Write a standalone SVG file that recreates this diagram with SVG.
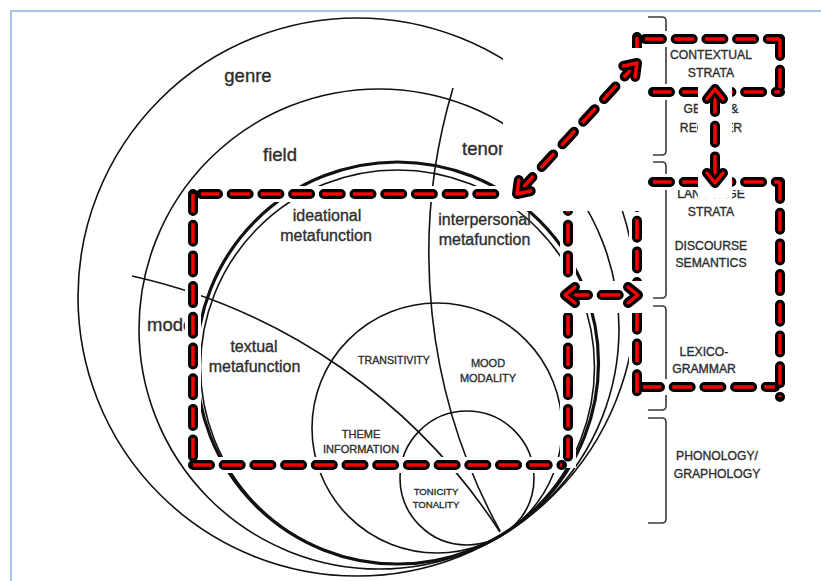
<svg xmlns="http://www.w3.org/2000/svg" width="821" height="581" viewBox="0 0 821 581">
<style>
.frame{stroke:#8db3e2;stroke-width:1.5;fill:none}
.c{fill:none;stroke:#111;stroke-width:1.6}
.ck{fill:none;stroke:#111;stroke-width:3.2}
.br{fill:none;stroke:#3a3a3a;stroke-width:1.6}
.t{font-family:"Liberation Sans",Arial,sans-serif;fill:#2e2e2e;stroke:#2e2e2e;stroke-width:0.35;text-anchor:middle}
.lg{font-size:18.5px}
.md{font-size:16px}
.cap{font-size:12.2px}
.sc{font-size:11px}
.xs{font-size:9.6px}
.u{fill:none;stroke:#fff;stroke-width:16}
.b{fill:none;stroke:#000;stroke-width:10;stroke-linecap:round;stroke-dasharray:17 13.7}
.r{fill:none;stroke:#f00;stroke-width:3.5;stroke-dasharray:20 10.7;stroke-dashoffset:1.5}
.hb{fill:none;stroke:#000;stroke-width:10;stroke-linecap:round;stroke-linejoin:round}
.hr{fill:none;stroke:#f00;stroke-width:3.5;stroke-linecap:round;stroke-linejoin:round}
.w{fill:#fff}
</style>
<defs>
<path id="b1t" d="M201 194 H520"/>
<path id="b1l" d="M193 194 V465"/>
<path id="b1b" d="M193 465 H562"/>
<path id="b1r" d="M568 194 V468"/>
<path id="b2t" d="M645 39 H780"/>
<path id="b2r" d="M780 39 V92"/>
<path id="b2b" d="M653 92 H780"/>
<path id="b2l" d="M637 37 V92"/>
<path id="b3t" d="M653 182 H780"/>
<path id="b3r" d="M780 182 V397"/>
<path id="b3b" d="M643 387 H775"/>
<path id="b3l" d="M637 190 V397"/>
<path id="a1" d="M521 189.6 L633 67.4"/>
<path id="a2" d="M715 95 V177"/>
<path id="a3" d="M571 295 H632"/>
<path id="h1a" d="M530.7 191 L517 194 L518.8 180.1"/>
<path id="h1b" d="M623.3 66 L637 63 L635.2 76.9"/>
<path id="h2a" d="M707 99 L715 89 L723 99"/>
<path id="h2b" d="M707 173 L715 183 L723 173"/>
<path id="h3a" d="M575 287 L565 295 L575 303"/>
<path id="h3b" d="M628 287 L638 295 L628 303"/>
</defs>
<rect width="821" height="581" fill="#fff"/>
<path class="frame" d="M11 581 V11 H821"/>

<g id="circles">
<circle id="genre-circle" class="c" cx="357" cy="297" r="279"/>
<circle id="register-circle" class="c" cx="379" cy="329" r="240"/>
<circle id="inner-ring" class="c" cx="397.5" cy="367" r="197"/>
<circle id="discourse-circle" class="ck" cx="397.5" cy="363" r="201"/>
<circle id="lexicogrammar-circle" class="c" cx="437" cy="428" r="125"/>
<circle id="phonology-circle" class="c" cx="467" cy="478" r="67"/>
<path id="tenor-divider" class="c" d="M453 88 A577.7 577.7 0 0 0 500 531"/>
<path id="mode-divider" class="c" d="M132 276 A591 591 0 0 1 500 532"/>
</g>

<g id="circle-labels" class="t">
<text class="lg" x="248" y="82">genre</text>
<text class="lg" x="280" y="161">field</text>
<text class="lg" x="462" y="155" style="text-anchor:start">tenor</text>
<text class="lg" x="147" y="331" style="text-anchor:start">mode</text>
<text class="md" x="327" y="221">ideational</text>
<text class="md" x="326" y="241">metafunction</text>
<text class="md" x="484.5" y="225">interpersonal</text>
<text class="md" x="484.5" y="245">metafunction</text>
<text class="md" x="254" y="352">textual</text>
<text class="md" x="254.5" y="372">metafunction</text>
<text style="font-size:10.6px" x="394" y="364">TRANSITIVITY</text>
<text class="sc" x="488" y="367">MOOD</text>
<text class="sc" x="488" y="382">MODALITY</text>
<text class="sc" x="361" y="438">THEME</text>
<text class="sc" x="361" y="453">INFORMATION</text>
<text class="xs" x="436" y="495">TONICITY</text>
<text class="xs" x="436" y="508">TONALITY</text>
</g>

<g id="strata-brackets" class="br">
<path d="M648 17 H662 Q666 17 666 21 V151 Q666 155 662 155 H653"/>
<path d="M653 162 H662 Q666 162 666 166 V294 Q666 298 662 298 H653"/>
<path d="M653 306 H662 Q666 306 666 310 V406 Q666 410 662 410 H648"/>
<path d="M648 418 H662 Q666 418 666 422 V519 Q666 523 662 523 H648"/>
</g>

<g id="strata-labels" class="t cap">
<text x="711" y="59">CONTEXTUAL</text>
<text x="711" y="77">STRATA</text>
<text x="711" y="113">GENRE &amp;</text>
<text x="711" y="132">REGISTER</text>
<text x="711" y="198">LANGUAGE</text>
<text x="711" y="216">STRATA</text>
<text x="711" y="250">DISCOURSE</text>
<text x="711" y="267">SEMANTICS</text>
<text x="704" y="356">LEXICO-</text>
<text x="704" y="373">GRAMMAR</text>
<text x="717" y="460">PHONOLOGY/</text>
<text x="717" y="478">GRAPHOLOGY</text>
</g>

<g id="metafunction-box">
<use href="#b1t" class="u"/><use href="#b1l" class="u"/><use href="#b1b" class="u"/><use href="#b1r" class="u"/>
<use href="#b1t" class="b"/><use href="#b1l" class="b"/><use href="#b1b" class="b"/><use href="#b1r" class="b"/>
<use href="#b1t" class="r"/><use href="#b1l" class="r"/><use href="#b1b" class="r"/><use href="#b1r" class="r"/>
</g>
<g id="contextual-box">
<use href="#b2t" class="u"/><use href="#b2r" class="u"/><use href="#b2b" class="u"/><use href="#b2l" class="u"/>
<use href="#b2t" class="b"/><use href="#b2r" class="b"/><use href="#b2b" class="b"/><use href="#b2l" class="b"/>
<use href="#b2t" class="r"/><use href="#b2r" class="r"/><use href="#b2b" class="r"/><use href="#b2l" class="r"/>
</g>
<g id="language-box">
<use href="#b3t" class="u"/><use href="#b3r" class="u"/><use href="#b3b" class="u"/><use href="#b3l" class="u"/>
<use href="#b3t" class="b"/><use href="#b3r" class="b"/><use href="#b3b" class="b"/><use href="#b3l" class="b"/>
<use href="#b3t" class="r"/><use href="#b3r" class="r"/><use href="#b3b" class="r"/><use href="#b3l" class="r"/>
</g>

<g id="connectors">
<rect class="w" x="503" y="48" width="142" height="163"/>
<rect class="w" x="698" y="82" width="34" height="116"/>
<rect class="w" x="562" y="281" width="83" height="32"/>
<use href="#a1" class="b"/><use href="#a1" class="r"/>
<use href="#h1a" class="hb"/><use href="#h1b" class="hb"/>
<use href="#h1a" class="hr"/><use href="#h1b" class="hr"/>
<use href="#a2" class="b"/><use href="#a2" class="r"/>
<use href="#h2a" class="hb"/><use href="#h2b" class="hb"/>
<use href="#h2a" class="hr"/><use href="#h2b" class="hr"/>
<use href="#a3" class="b"/><use href="#a3" class="r"/>
<use href="#h3a" class="hb"/><use href="#h3b" class="hb"/>
<use href="#h3a" class="hr"/><use href="#h3b" class="hr"/>
</g>
</svg>
